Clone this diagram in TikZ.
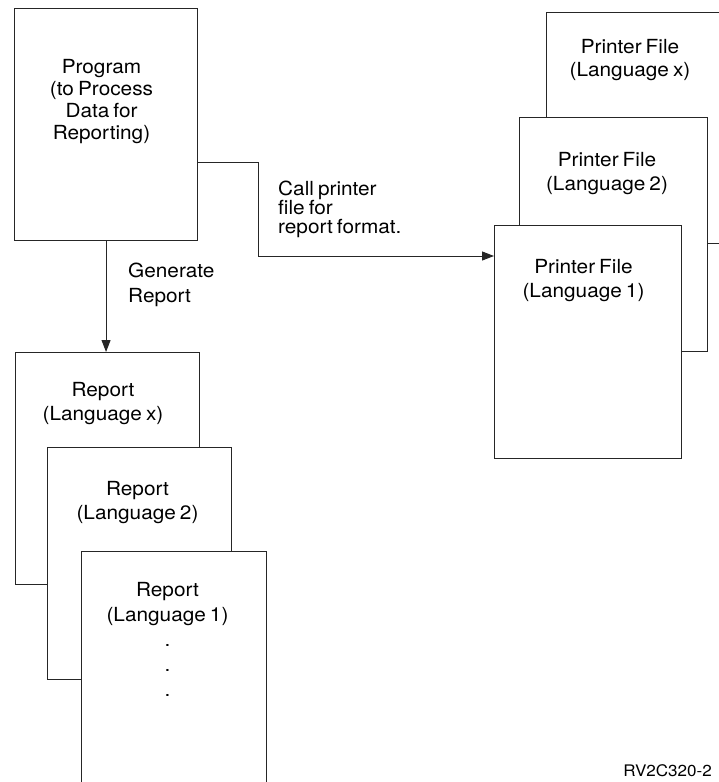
\documentclass[tikz,border=0pt]{standalone}
\usepackage{fontspec}
\setmainfont{TeX Gyre Heros}[WordSpace=0.7, FakeStretch=1.07]
\usetikzlibrary{arrows.meta}

\begin{document}
\begin{tikzpicture}[x=1bp,y=-1bp,
  sheet/.style={draw=black!85, line width=1.1bp, fill=white, rectangle,
    inner sep=0pt, anchor=north west},
  % multi-line labels are placed by the baseline of their last line
  lbl/.style={align=center, inner sep=0pt, anchor=base,
    font=\fontsize{19.5}{24}\selectfont},
  note/.style={align=left, inner sep=0pt, anchor=base west,
    font=\fontsize{19.5}{19}\selectfont},
  flow/.style={draw=black!85, line width=1bp,
    -{Triangle[length=12bp,width=9bp]}},
]
\useasboundingbox (0,0) rectangle (719,782);

% printer file stack (back to front)
\node[sheet, minimum width=184bp, minimum height=231bp] (px) at (546,12) {};
\node[lbl] (pxt) at (630,77) {Printer File\\(Language x)};
\node[sheet, minimum width=188bp, minimum height=234bp] (p2) at (519,117) {};
\node[lbl] (p2t) at (607,190) {Printer File\\(Language 2)};
\node[sheet, minimum width=187bp, minimum height=233bp] (p1) at (494,225) {};
\node[lbl] (p1t) at (583.5,297) {Printer File\\(Language 1)};

% report stack (back to front)
\node[sheet, minimum width=184bp, minimum height=232bp] (rx) at (15,352) {};
\node[lbl] (rxt) at (103,420) {Report\\(Language x)};
\node[sheet, minimum width=184bp, minimum height=232bp] (r2) at (47,447) {};
\node[lbl] (r2t) at (137.5,519) {Report\\(Language 2)};
\node[sheet, minimum width=185bp, minimum height=232bp] (r1) at (81,551) {};
\node[lbl, font=\fontsize{19.5}{25}\selectfont] (r1t) at (167.5,696)
  {Report\\(Language 1)\\.\\.\\.};

% program
\node[sheet, minimum width=183bp, minimum height=232bp] (prog) at (14,8) {};
\node[lbl, font=\fontsize{19.5}{22}\selectfont] (progt) at (101.5,139)
  {Program\\(to Process\\Data for\\Reporting)};

% connectors
\draw[flow] (prog.south) -- (prog.south |- rx.north);
\draw[flow] ([yshift=-154bp]prog.north east) -- ++(60bp,0)
  |- ([yshift=-31bp]p1.north west);

% connector labels
\node[note, font=\fontsize{19.5}{24.5}\selectfont] (gen) at (128,302)
  {Generate\\Report};
\node[note] (call) at (278,233) {Call printer\\file for\\report format.};

\node[inner sep=0pt, anchor=base east, font=\fontsize{16}{18}\selectfont]
  (fig) at (712,776) {RV2C320-2};
\end{tikzpicture}
\end{document}
